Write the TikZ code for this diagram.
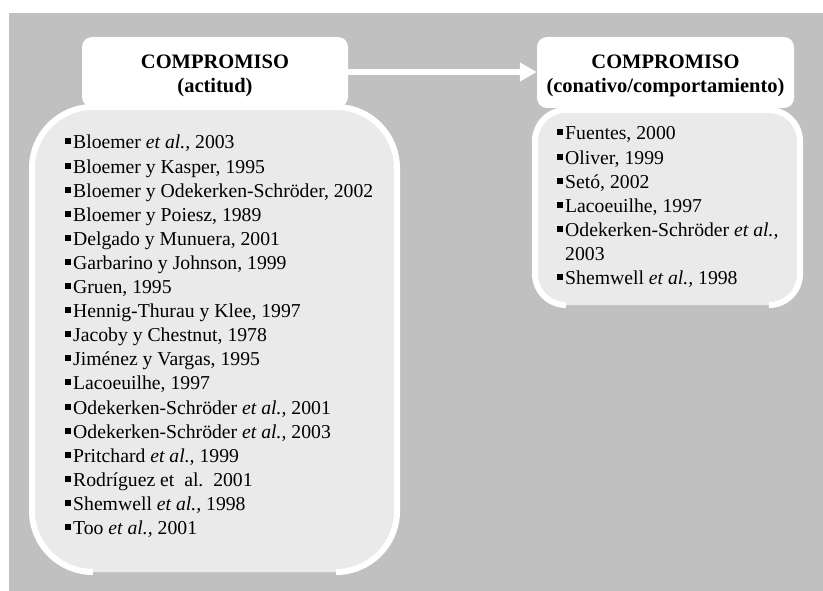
\documentclass[tikz,border=0pt]{standalone}
\usepackage{fontspec}
\setmainfont{Liberation Serif}
\usetikzlibrary{arrows.meta}
\definecolor{panelgrey}{HTML}{C0C0C0}
\definecolor{listfill}{HTML}{EAEAEA}
% square bullet in front of each reference
\newcommand{\sqbullet}{\rule[4.5pt]{6pt}{6pt}\hspace{2pt}}
% indent of a wrapped line, equal to bullet plus gap
\newcommand{\hangon}{\hspace{8pt}}

\begin{document}
\begin{tikzpicture}[x=1pt,y=-1pt,
  headbox/.style={fill=white, rounded corners=10pt, inner sep=0pt},
  headtext/.style={inner sep=0pt, align=center,
    font=\fontsize{20.5}{24}\selectfont\bfseries},
  listframe/.style={white, line width=6pt},
  listtext/.style={anchor=base west, inner sep=0pt,
    font=\fontsize{19.7}{24.1}\selectfont},
  flowarrow/.style={white, line width=6pt, -{Triangle[length=17pt,width=18pt]}}]

  \useasboundingbox (0,0) rectangle (823,591);
  \fill[white] (0,0) rectangle (823,591);
  \fill[panelgrey] (9,13) rectangle (823,591);

  % left list panel
  \fill[listfill, rounded corners=61pt] (32,107) rectangle (397,572);
  \draw[listframe, rounded corners=61pt]
    (93,572) -- (32,572) -- (32,107) -- (397,107) -- (397,572) -- (336,572);

  % right list panel
  \fill[listfill, rounded corners=31pt] (535,110) rectangle (800,305);
  \draw[listframe, rounded corners=31pt]
    (566,305) -- (535,305) -- (535,110) -- (800,110) -- (800,305) -- (769,305);

  % headers
  \node[headbox, minimum width=266pt, minimum height=70pt] (lhead) at (215,72) {};
  \node[headtext] (lheadtext) at ([yshift=-3.5pt]lhead.center)
    {COMPROMISO\\(actitud)};
  \node[headbox, minimum width=257pt, minimum height=71pt] (rhead) at (665.5,72.5) {};
  \node[headtext] (rheadtext) at ([yshift=-3.5pt]rhead.center)
    {COMPROMISO\\(conativo/comportamiento)};

  \draw[flowarrow] (lhead.east) -- (lhead.east -| rhead.west);

  % reference lists
  \node[listtext] (llist) at (65,149) {%
    \begin{tabular}[t]{@{}l@{}}
      \sqbullet Bloemer \textit{et al.,} 2003\\
      \sqbullet Bloemer y Kasper, 1995\\
      \sqbullet Bloemer y Odekerken-Schröder, 2002\\
      \sqbullet Bloemer y Poiesz, 1989\\
      \sqbullet Delgado y Munuera, 2001\\
      \sqbullet Garbarino y Johnson, 1999\\
      \sqbullet Gruen, 1995\\
      \sqbullet Hennig-Thurau y Klee, 1997\\
      \sqbullet Jacoby y Chestnut, 1978\\
      \sqbullet Jiménez y Vargas, 1995\\
      \sqbullet Lacoeuilhe, 1997\\
      \sqbullet Odekerken-Schröder \textit{et al.,} 2001\\
      \sqbullet Odekerken-Schröder \textit{et al.,} 2003\\
      \sqbullet Pritchard \textit{et al.,} 1999\\
      \sqbullet Rodríguez et\ \ al.\ \ 2001\\
      \sqbullet Shemwell \textit{et al.,} 1998\\
      \sqbullet Too \textit{et al.,} 2001
    \end{tabular}};

  \node[listtext] (rlist) at (557,140) {%
    \begin{tabular}[t]{@{}l@{}}
      \sqbullet Fuentes, 2000\\
      \sqbullet Oliver, 1999\\
      \sqbullet Setó, 2002\\
      \sqbullet Lacoeuilhe, 1997\\
      \sqbullet Odekerken-Schröder \textit{et al.,}\\
      \hangon 2003\\
      \sqbullet Shemwell \textit{et al.,} 1998
    \end{tabular}};
\end{tikzpicture}
\end{document}
